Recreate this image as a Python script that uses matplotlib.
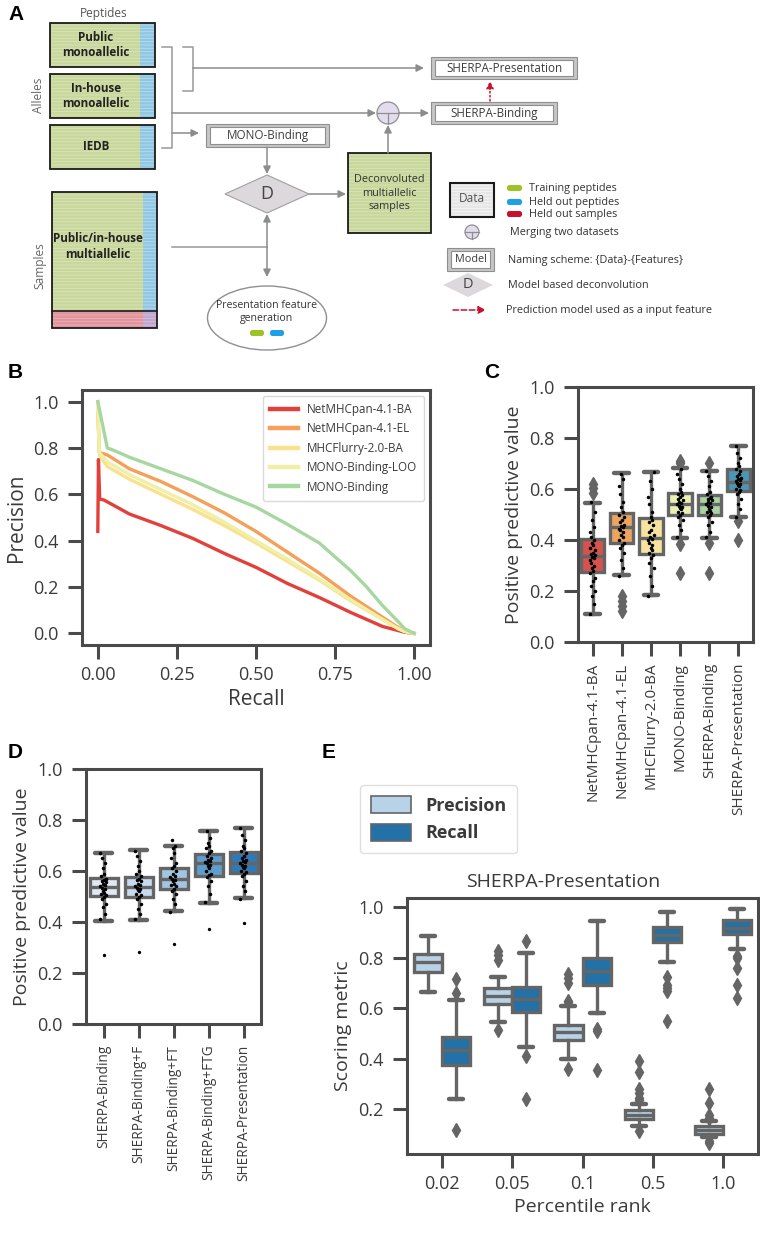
import matplotlib
matplotlib.use('Agg')
import matplotlib.pyplot as plt
from matplotlib.patches import Rectangle, Polygon, Circle, Ellipse, FancyBboxPatch, Patch
import numpy as np

plt.rcParams['font.family'] = ['Open Sans', 'DejaVu Sans']
plt.rcParams['hatch.linewidth'] = 0.6
plt.rcParams['axes.linewidth'] = 2.2
plt.rcParams['axes.edgecolor'] = '#4a4a4a'
plt.rcParams['xtick.color'] = '#4a4a4a'
plt.rcParams['ytick.color'] = '#4a4a4a'
plt.rcParams['xtick.labelcolor'] = '#3a3a3a'
plt.rcParams['ytick.labelcolor'] = '#3a3a3a'
plt.rcParams['axes.labelcolor'] = '#3a3a3a'
plt.rcParams['text.color'] = '#3a3a3a'
plt.rcParams['xtick.major.size'] = 10
plt.rcParams['ytick.major.size'] = 10
plt.rcParams['xtick.major.width'] = 2.2
plt.rcParams['ytick.major.width'] = 2.2
plt.rcParams['xtick.major.pad'] = 5
plt.rcParams['ytick.major.pad'] = 7

# ---------------- data ----------------
# B: precision-recall curves
b_names = ['NetMHCpan-4.1-BA', 'NetMHCpan-4.1-EL', 'MHCFlurry-2.0-BA',
           'MONO-Binding-LOO', 'MONO-Binding']
b_colors = ['#e2403a', '#f59f58', '#fbe08d', '#eff0a6', '#a7d7a0']
rec_netba = [0.0, 0.002, 0.006, 0.02, 0.04, 0.1, 0.2, 0.3, 0.4, 0.5, 0.6, 0.7, 0.8, 0.9, 0.95, 0.97, 1.0]
prec_netba = [0.44, 0.75, 0.58, 0.575, 0.56, 0.515, 0.465, 0.41, 0.345, 0.285, 0.215, 0.155, 0.09, 0.03, 0.012, 0.005, 0.0]
rec_netel = [0.0, 0.005, 0.03, 0.1, 0.2, 0.3, 0.4, 0.5, 0.6, 0.7, 0.8, 0.9, 0.95, 0.97, 1.0]
prec_netel = [0.95, 0.78, 0.77, 0.71, 0.655, 0.59, 0.52, 0.44, 0.35, 0.26, 0.16, 0.07, 0.025, 0.01, 0.0]
rec_flurry = [0.0, 0.005, 0.03, 0.1, 0.2, 0.3, 0.4, 0.5, 0.6, 0.7, 0.8, 0.9, 0.95, 0.97, 1.0]
prec_flurry = [1.0, 0.77, 0.72, 0.665, 0.60, 0.535, 0.465, 0.39, 0.31, 0.23, 0.14, 0.06, 0.02, 0.008, 0.0]
rec_loo = [0.0, 0.005, 0.03, 0.1, 0.2, 0.3, 0.4, 0.5, 0.6, 0.7, 0.8, 0.9, 0.95, 0.97, 1.0]
prec_loo = [0.96, 0.78, 0.74, 0.685, 0.62, 0.555, 0.48, 0.40, 0.32, 0.235, 0.145, 0.06, 0.02, 0.008, 0.0]
rec_mono = [0.0, 0.03, 0.05, 0.1, 0.2, 0.3, 0.4, 0.5, 0.6, 0.7, 0.75, 0.8, 0.85, 0.9, 0.95, 0.97, 1.0]
prec_mono = [1.0, 0.80, 0.79, 0.76, 0.71, 0.66, 0.60, 0.545, 0.47, 0.39, 0.33, 0.27, 0.20, 0.12, 0.05, 0.02, 0.0]

# C: PPV per model (box stats + individual samples)
c_labels = ['NetMHCpan-4.1-BA', 'NetMHCpan-4.1-EL', 'MHCFlurry-2.0-BA',
            'MONO-Binding', 'SHERPA-Binding', 'SHERPA-Presentation']
c_colors = ['#d6524d', '#eca45f', '#f6e2a1', '#ebf0b4', '#a9d3a2', '#4a96b5']
c_lo = [0.11, 0.263, 0.184, 0.406, 0.406, 0.491]
c_q1 = [0.276, 0.387, 0.344, 0.50, 0.50, 0.592]
c_med = [0.338, 0.45, 0.406, 0.541, 0.54, 0.629]
c_q3 = [0.404, 0.507, 0.485, 0.583, 0.575, 0.677]
c_hi = [0.546, 0.661, 0.665, 0.681, 0.672, 0.769]
c_fliers = [[0.585, 0.605, 0.62], [0.12, 0.14, 0.16, 0.18], [],
            [0.27, 0.385, 0.70, 0.71], [0.27, 0.39, 0.70], [0.40, 0.475]]
pts_netba = [0.11, 0.15, 0.18, 0.20, 0.22, 0.24, 0.25, 0.27, 0.28, 0.29, 0.30, 0.31, 0.32, 0.33, 0.335,
             0.34, 0.345, 0.35, 0.36, 0.37, 0.38, 0.39, 0.40, 0.41, 0.43, 0.45, 0.48, 0.51, 0.55]
pts_netel = [0.26, 0.29, 0.32, 0.35, 0.37, 0.38, 0.39, 0.40, 0.41, 0.42, 0.43, 0.44, 0.445, 0.45,
             0.455, 0.46, 0.47, 0.48, 0.49, 0.50, 0.51, 0.53, 0.55, 0.58, 0.61, 0.64, 0.66]
pts_flurry = [0.18, 0.22, 0.26, 0.29, 0.31, 0.33, 0.34, 0.35, 0.36, 0.37, 0.38, 0.39, 0.40, 0.405,
              0.41, 0.42, 0.43, 0.44, 0.46, 0.47, 0.48, 0.49, 0.51, 0.54, 0.57, 0.60, 0.63, 0.665]
pts_mono = [0.41, 0.44, 0.46, 0.48, 0.49, 0.50, 0.505, 0.51, 0.52, 0.525, 0.53, 0.535, 0.54, 0.545,
            0.55, 0.555, 0.56, 0.57, 0.575, 0.58, 0.59, 0.60, 0.62, 0.64, 0.66, 0.68]
pts_sbind = [0.41, 0.43, 0.46, 0.47, 0.49, 0.50, 0.505, 0.51, 0.515, 0.52, 0.53, 0.535, 0.54, 0.545,
             0.55, 0.555, 0.56, 0.565, 0.57, 0.58, 0.59, 0.61, 0.63, 0.65, 0.67]
pts_spres = [0.49, 0.52, 0.54, 0.56, 0.58, 0.59, 0.595, 0.60, 0.61, 0.615, 0.62, 0.625, 0.63, 0.635,
             0.64, 0.645, 0.65, 0.66, 0.67, 0.68, 0.69, 0.70, 0.72, 0.74, 0.77]

# D: feature ablation
d_labels = ['SHERPA-Binding', 'SHERPA-Binding+F', 'SHERPA-Binding+FT',
            'SHERPA-Binding+FTG', 'SHERPA-Presentation']
d_colors = ['#dfe9f4', '#c8dbee', '#a2c5e0', '#5d9ecf', '#2f79b8']
d_lo = [0.404, 0.408, 0.443, 0.476, 0.493]
d_q1 = [0.502, 0.497, 0.528, 0.580, 0.591]
d_med = [0.538, 0.538, 0.568, 0.633, 0.633]
d_q3 = [0.574, 0.578, 0.611, 0.665, 0.676]
d_hi = [0.672, 0.683, 0.700, 0.755, 0.767]
d_fliers = [[0.269], [0.284], [0.314], [0.374], [0.395]]
pts_f = [0.41, 0.43, 0.45, 0.47, 0.49, 0.50, 0.505, 0.51, 0.52, 0.525, 0.53, 0.535, 0.54, 0.545,
         0.55, 0.56, 0.565, 0.57, 0.58, 0.59, 0.60, 0.62, 0.64, 0.66, 0.68]
pts_ft = [0.44, 0.47, 0.49, 0.51, 0.52, 0.53, 0.54, 0.545, 0.55, 0.56, 0.565, 0.57, 0.575, 0.58,
          0.59, 0.60, 0.61, 0.62, 0.63, 0.65, 0.67, 0.69, 0.70, 0.72]
pts_ftg = [0.48, 0.51, 0.54, 0.56, 0.575, 0.585, 0.59, 0.60, 0.61, 0.62, 0.625, 0.63, 0.635, 0.64,
           0.645, 0.65, 0.66, 0.67, 0.68, 0.69, 0.70, 0.71, 0.73, 0.755]

# E: precision / recall by percentile rank
e_ranks = ['0.02', '0.05', '0.1', '0.5', '1.0']
e_prec_lo = [0.663, 0.543, 0.40, 0.134, 0.089]
e_prec_q1 = [0.743, 0.616, 0.472, 0.16, 0.102]
e_prec_med = [0.782, 0.646, 0.504, 0.178, 0.118]
e_prec_q3 = [0.814, 0.679, 0.531, 0.197, 0.134]
e_prec_hi = [0.886, 0.725, 0.607, 0.221, 0.151]
e_prec_fl = [[], [0.514, 0.79, 0.81, 0.825], [0.36, 0.625, 0.63, 0.70, 0.72, 0.735],
             [0.115, 0.235, 0.245, 0.265, 0.28, 0.345, 0.39], [0.065, 0.072, 0.164, 0.178, 0.224, 0.28]]
e_rec_lo = [0.24, 0.446, 0.58, 0.782, 0.834]
e_rec_q1 = [0.376, 0.583, 0.692, 0.861, 0.894]
e_rec_med = [0.432, 0.636, 0.745, 0.89, 0.917]
e_rec_q3 = [0.484, 0.682, 0.798, 0.923, 0.95]
e_rec_hi = [0.633, 0.82, 0.946, 0.98, 0.992]
e_rec_fl = [[0.118, 0.659, 0.715], [0.24, 0.409, 0.864], [0.356, 0.51, 0.517],
            [0.547, 0.666, 0.679, 0.692, 0.725], [0.64, 0.692, 0.758, 0.80, 0.807]]

GRAY = '#656565'
fig = plt.figure(figsize=(7.6, 12.38), dpi=100)


def box_panel(ax, pos, lo, q1, med, q3, hi, fliers, colors, width, capw, flierprops):
    stats = [dict(whislo=a, q1=b, med=c, q3=d, whishi=e, fliers=f)
             for a, b, c, d, e, f in zip(lo, q1, med, q3, hi, fliers)]
    bp = ax.bxp(stats, positions=pos, widths=width, capwidths=capw, patch_artist=True,
                showfliers=True, manage_ticks=False,
                boxprops=dict(edgecolor=GRAY, linewidth=2.4),
                medianprops=dict(color=GRAY, linewidth=2.4),
                whiskerprops=dict(color=GRAY, linewidth=2.4),
                capprops=dict(color=GRAY, linewidth=3.2, solid_capstyle='round'),
                flierprops=flierprops)
    for patch, c in zip(bp['boxes'], colors):
        patch.set_facecolor(c)
    return bp


def strip(ax, i, vals, spread):
    pattern = np.array([-1.0, 0.4, -0.3, 0.9, -0.6, 0.1, 0.7, -0.8, 0.3, -0.1, 0.5, -0.5])
    offs = pattern[np.arange(len(vals)) % len(pattern)] * spread
    ax.plot(i + offs, vals, 'o', ms=1.5, color='black', zorder=5)


# ---------------- panel A (diagram in pixel coords) ----------------
ax0 = fig.add_axes([0, 0, 1, 1], zorder=-1)
ax0.set_xlim(0, 760)
ax0.set_ylim(1238, 0)
ax0.axis('off')

ARROW = '#8c8c8c'
LINE = '#999999'


def striped(x0, y0, x1, y1, fc, lc):
    ax0.add_patch(Rectangle((x0, y0), x1 - x0, y1 - y0, facecolor=fc, edgecolor='none'))
    ax0.add_patch(Rectangle((x0, y0), x1 - x0, y1 - y0, facecolor='none', edgecolor=lc,
                            hatch='-----', lw=0))


def border(x0, y0, x1, y1, lw=1.3):
    ax0.add_patch(Rectangle((x0, y0), x1 - x0, y1 - y0, facecolor='none', edgecolor='#1a1a1a', lw=lw))


def arrow(x0, y0, x1, y1, color=ARROW, ls='-'):
    ax0.annotate('', xy=(x1, y1), xytext=(x0, y0),
                 arrowprops=dict(arrowstyle='-|>', color=color, lw=1.1, ls=ls,
                                 mutation_scale=11, shrinkA=0, shrinkB=0))


def line(xs, ys):
    ax0.plot(xs, ys, color=LINE, lw=1.1)


def model_box(x0, y0, x1, y1, label, fs=8.4):
    ax0.add_patch(Rectangle((x0, y0), x1 - x0, y1 - y0, facecolor='#c6c6c6', edgecolor='#8f8f8f', lw=0.8))
    ax0.add_patch(Rectangle((x0 + 4, y0 + 3), x1 - x0 - 8, y1 - y0 - 6, facecolor='white',
                            edgecolor='#8f8f8f', lw=0.8))
    ax0.text((x0 + x1) / 2, (y0 + y1) / 2, label, ha='center', va='center', fontsize=fs, color='#3d3d3d')


def diamond(cx, cy, hw, hh, fs, ec='#a0a0a0'):
    ax0.add_patch(Polygon([(cx - hw, cy), (cx, cy - hh), (cx + hw, cy), (cx, cy + hh)],
                          closed=True, facecolor='#dcd8dc', edgecolor=ec, lw=0.8))
    ax0.text(cx, cy, 'D', ha='center', va='center', fontsize=fs, color='#444444')


def merge(cx, cy, r):
    ax0.add_patch(Circle((cx, cy), r, facecolor='#e2dcec', edgecolor='#8f8f8f', lw=0.9))
    ax0.plot([cx - r, cx + r], [cy, cy], color='#8f8f8f', lw=0.9)
    ax0.plot([cx, cx], [cy, cy + r], color='#8f8f8f', lw=0.9)


def pill(x0, x1, cy, color, h=6):
    ax0.add_patch(FancyBboxPatch((x0, cy - h / 2), x1 - x0, h, boxstyle='round,pad=0,rounding_size=2.5',
                                 facecolor=color, edgecolor='none'))


GREEN, GREEN_L = '#c8d79c', '#dae5b9'
BLUE, BLUE_L = '#92c7e3', '#b6dcef'
RED, RED_L = '#e1949b', '#edb5ba'
PURP, PURP_L = '#c0a6cd', '#d4c2de'
LEG_FS = 7.8

ax0.text(104, 13, 'Peptides', ha='center', va='center', fontsize=8.6, color='#555555')
for (y0, y1, lab) in [(23, 67, 'Public\nmonoallelic'), (74, 118, 'In-house\nmonoallelic'), (125, 169, 'IEDB')]:
    striped(50, y0, 140, y1, GREEN, GREEN_L)
    striped(140, y0, 155, y1, BLUE, BLUE_L)
    border(50, y0, 155, y1)
    ax0.text(96, (y0 + y1) / 2, lab, ha='center', va='center', fontsize=8.4, fontweight='bold',
             color='#222222', linespacing=1.2)
ax0.text(39, 95, 'Alleles', rotation=90, ha='center', va='center', fontsize=8.6, color='#666666')

line([162, 172, 172, 162], [47, 47, 148, 148])
line([183, 193, 193, 183], [47, 47, 91, 91])
arrow(193, 68, 424, 68)
arrow(172, 113, 376, 113)
arrow(172, 133, 199, 133)
model_box(206, 124, 329, 147, 'MONO-Binding')
arrow(267, 147, 267, 174)
diamond(267, 194, 42, 19, 13)
arrow(309, 194, 346, 194)
striped(348, 153, 431, 233, GREEN, GREEN_L)
border(348, 153, 431, 233)
ax0.text(389, 193, 'Deconvoluted\nmultiallelic\nsamples', ha='center', va='center', fontsize=7.8,
         color='#333333', linespacing=1.3)
arrow(388, 153, 388, 125)
merge(388, 113, 11)
arrow(399, 113, 429, 113)
model_box(431, 102, 557, 124, 'SHERPA-Binding')
model_box(431, 57, 577, 79, 'SHERPA-Presentation')
arrow(490, 101, 490, 81, color='#c8102e', ls=':')

striped(52, 192, 143, 311, GREEN, GREEN_L)
striped(143, 192, 157, 311, BLUE, BLUE_L)
striped(52, 311, 143, 328, RED, RED_L)
striped(143, 311, 157, 328, PURP, PURP_L)
border(52, 192, 157, 328)
ax0.plot([52, 157], [311, 311], color='#1a1a1a', lw=1.2)
ax0.text(98, 247, 'Public/in-house\nmultiallelic', ha='center', va='center', fontsize=8.4,
         fontweight='bold', color='#222222', linespacing=1.3)
ax0.text(40, 266, 'Samples', rotation=90, ha='center', va='center', fontsize=8.6, color='#666666')
line([172, 267], [247, 247])
arrow(267, 247, 267, 214)
arrow(267, 247, 267, 277)
ax0.add_patch(Ellipse((267, 318), 119, 64, facecolor='white', edgecolor='#8f8f8f', lw=1.0))
ax0.text(267, 312, 'Presentation feature\ngeneration', ha='center', va='center', fontsize=7.6,
         color='#333333', linespacing=1.35)
pill(250, 264, 333, '#9dc425')
pill(270, 284, 333, '#1ea1e4')

# legend of the diagram
striped(450, 183, 494, 217, '#e6e6e6', '#f6f6f6')
border(450, 183, 494, 217, lw=1.5)
ax0.text(472, 199, 'Data', ha='center', va='center', fontsize=8.6, color='#555555')
for cy, col, lab in [(188, '#9dc425', 'Training peptides'), (202, '#1ea1e4', 'Held out peptides'),
                     (214, '#c8102e', 'Held out samples')]:
    pill(507, 522, cy, col)
    ax0.text(529, cy, lab, ha='left', va='center', fontsize=LEG_FS, color='#333333')
merge(472, 232, 7)
ax0.text(510, 232, 'Merging two datasets', ha='left', va='center', fontsize=LEG_FS, color='#333333')
model_box(447, 248, 494, 271, 'Model', fs=7.8)
ax0.text(508, 260, 'Naming scheme: {Data}-{Features}', ha='left', va='center', fontsize=LEG_FS,
         color='#333333')
diamond(468, 285, 25, 12, 10.5, ec='none')
ax0.text(508, 286, 'Model based deconvolution', ha='left', va='center', fontsize=LEG_FS, color='#333333')
arrow(453, 310, 486, 310, color='#c8102e', ls='--')
ax0.text(506, 310, 'Prediction model used as a input feature', ha='left', va='center', fontsize=LEG_FS,
         color='#333333')

# panel letters
for lab, x, y in [('A', 8, 14), ('B', 8, 373), ('C', 484, 373), ('D', 8, 753), ('E', 322, 753)]:
    ax0.text(x, y, lab, ha='left', va='center', fontsize=15, fontweight='bold', color='black',
             family=['Liberation Sans', 'DejaVu Sans'])

W, H = 760.0, 1238.0


def px_axes(left, top, right, bottom):
    return fig.add_axes([left / W, 1 - bottom / H, (right - left) / W, (bottom - top) / H])


# ---------------- panel B ----------------
axb = px_axes(82, 390, 430, 645)
curves = [(rec_netba, prec_netba), (rec_netel, prec_netel), (rec_flurry, prec_flurry),
          (rec_loo, prec_loo), (rec_mono, prec_mono)]
for (r, p), name, col in zip(curves, b_names, b_colors):
    axb.plot(r, p, color=col, lw=2.4, label=name, solid_joinstyle='round')
axb.set_xlim(-0.05, 1.05)
axb.set_ylim(-0.05, 1.05)
axb.set_xticks([0, 0.25, 0.5, 0.75, 1.0])
axb.set_xticklabels(['0.00', '0.25', '0.50', '0.75', '1.00'])
axb.set_yticks([0, 0.2, 0.4, 0.6, 0.8, 1.0])
axb.set_yticklabels(['0.0', '0.2', '0.4', '0.6', '0.8', '1.0'])
axb.tick_params(labelsize=13)
axb.set_xlabel('Recall', fontsize=15)
axb.set_ylabel('Precision', fontsize=15)
leg = axb.legend(loc='upper right', fontsize=8.4, handlelength=2.4, labelspacing=0.55,
                 borderpad=0.6, edgecolor='#d0d0d0')
for h in leg.get_lines():
    h.set_linewidth(3.2)

# ---------------- panel C ----------------
axc = px_axes(578, 387, 753, 642)
box_panel(axc, range(6), c_lo, c_q1, c_med, c_q3, c_hi, c_fliers, c_colors, 0.8, 0.5,
          dict(marker='d', markerfacecolor=GRAY, markeredgecolor=GRAY, markersize=7, linestyle='none'))
for i, vals in enumerate([pts_netba, pts_netel, pts_flurry, pts_mono, pts_sbind, pts_spres]):
    strip(axc, i, vals, 0.1)
axc.set_xlim(-0.5, 5.5)
axc.set_ylim(0, 1.0)
axc.set_yticks([0, 0.2, 0.4, 0.6, 0.8, 1.0])
axc.set_yticklabels(['0.0', '0.2', '0.4', '0.6', '0.8', '1.0'])
axc.set_xticks(range(6))
axc.set_xticklabels(c_labels, rotation=90)
axc.tick_params(axis='y', labelsize=13)
axc.tick_params(axis='x', labelsize=11)
axc.set_ylabel('Positive predictive value', fontsize=14)

# ---------------- panel D ----------------
axd = px_axes(86, 769, 261, 1024)
box_panel(axd, range(5), d_lo, d_q1, d_med, d_q3, d_hi, d_fliers, d_colors, 0.8, 0.5,
          dict(marker='o', markerfacecolor='black', markeredgecolor='black', markersize=1.4, linestyle='none'))
for i, vals in enumerate([pts_sbind, pts_f, pts_ft, pts_ftg, pts_spres]):
    strip(axd, i, vals, 0.09)
axd.set_xlim(-0.5, 4.5)
axd.set_ylim(0, 1.0)
axd.set_yticks([0, 0.2, 0.4, 0.6, 0.8, 1.0])
axd.set_yticklabels(['0.0', '0.2', '0.4', '0.6', '0.8', '1.0'])
axd.set_xticks(range(5))
axd.set_xticklabels(d_labels, rotation=90)
axd.tick_params(axis='y', labelsize=13)
axd.tick_params(axis='x', labelsize=9.8)
axd.set_ylabel('Positive predictive value', fontsize=14)

# ---------------- panel E ----------------
axe = px_axes(407, 898, 758, 1154)
PREC_C, REC_C = '#b8d3e7', '#2371a6'
dflier = dict(marker='d', markerfacecolor=GRAY, markeredgecolor=GRAY, markersize=7, linestyle='none')
pos = np.arange(len(e_ranks))
box_panel(axe, pos - 0.2, e_prec_lo, e_prec_q1, e_prec_med, e_prec_q3, e_prec_hi, e_prec_fl,
          [PREC_C] * 5, 0.4, 0.2, dflier)
box_panel(axe, pos + 0.2, e_rec_lo, e_rec_q1, e_rec_med, e_rec_q3, e_rec_hi, e_rec_fl,
          [REC_C] * 5, 0.4, 0.2, dflier)
axe.set_xlim(-0.5, 4.5)
axe.set_ylim(0.022, 1.036)
axe.set_xticks(pos)
axe.set_xticklabels(e_ranks)
axe.set_yticks([0.2, 0.4, 0.6, 0.8, 1.0])
axe.set_yticklabels(['0.2', '0.4', '0.6', '0.8', '1.0'])
axe.tick_params(labelsize=13)
axe.set_xlabel('Percentile rank', fontsize=14)
axe.set_ylabel('Scoring metric', fontsize=14)
axe.set_title('SHERPA-Presentation', fontsize=14, pad=8, x=0.445)
handles = [Patch(facecolor=PREC_C, edgecolor=GRAY, lw=1.2, label='Precision'),
           Patch(facecolor=REC_C, edgecolor=GRAY, lw=1.2, label='Recall')]
fig.legend(handles=handles, loc='upper left', bbox_to_anchor=(360 / W, 1 - 785 / H),
           borderaxespad=0, prop=dict(weight='bold', size=13), handlelength=2.2, handleheight=1.1,
           borderpad=0.6, labelspacing=0.5, edgecolor='#d8d8d8')

fig.savefig('out.png', dpi=100)
